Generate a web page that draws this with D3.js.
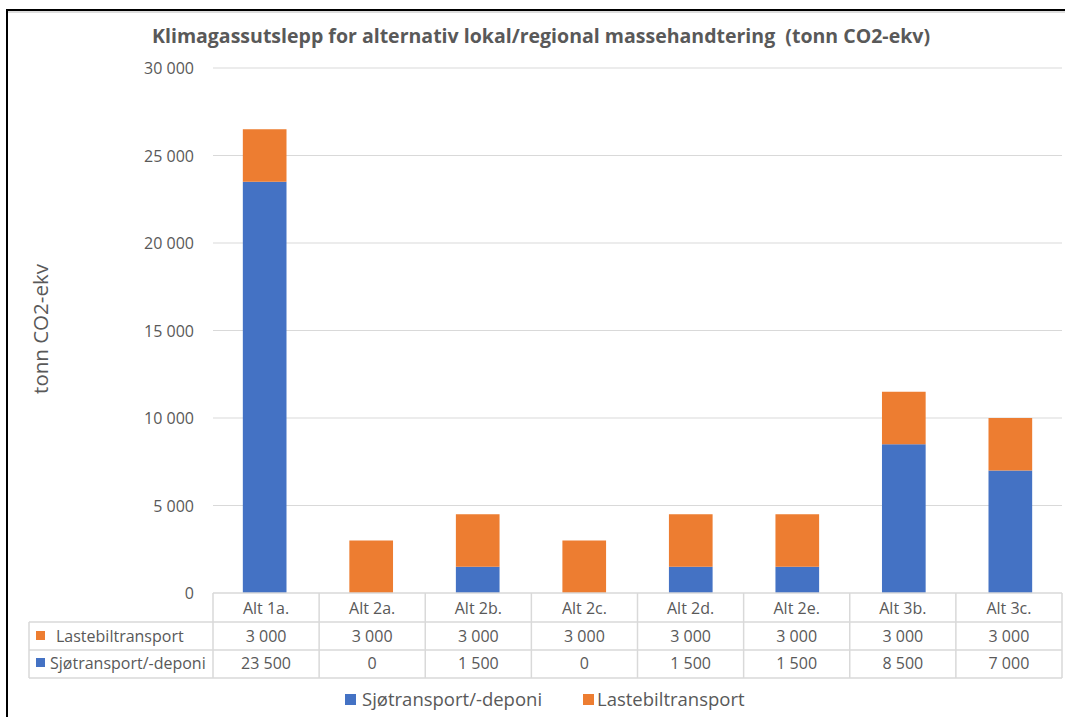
<!DOCTYPE html>
<html>
<head>
<meta charset="utf-8">
<script src="https://cdn.jsdelivr.net/npm/d3@7"></script>
<style>
  body { margin: 0; background: #fff; }
  svg { display: block; font-family: "Open Sans", "Noto Sans", sans-serif; }
</style>
</head>
<body>
<script>
var categories = ['Alt 1a.', 'Alt 2a.', 'Alt 2b.', 'Alt 2c.', 'Alt 2d.', 'Alt 2e.', 'Alt 3b.', 'Alt 3c.']
var sjotransport = [23500, 0, 1500, 0, 1500, 1500, 8500, 7000]
var lastebil = [3000, 3000, 3000, 3000, 3000, 3000, 3000, 3000]
var yTicks = [0, 5000, 10000, 15000, 20000, 25000, 30000]

var series = [
  { name: 'Sjøtransport/-deponi', values: sjotransport, color: '#4472C4' },
  { name: 'Lastebiltransport', values: lastebil, color: '#ED7D31' }
]

var W = 1065, H = 717
var plot = { left: 213, right: 1062, top: 68, bottom: 593 }
var grey = '#595959', lineCol = '#d9d9d9'
var fmt = function(v) { return d3.format(',')(v).replace(/,/g, ' ') }

var svg = d3.select('body').append('svg')
    .attr('width', W)
    .attr('height', H)

// frame
svg.append('line').attr('x1', 7).attr('x2', W).attr('y1', 12).attr('y2', 12)
    .attr('stroke', '#bbb').attr('stroke-width', 1)
svg.append('line').attr('x1', 6).attr('x2', W).attr('y1', 10).attr('y2', 10)
    .attr('stroke', '#000').attr('stroke-width', 2)
svg.append('line').attr('x1', 7).attr('x2', 7).attr('y1', 9).attr('y2', H)
    .attr('stroke', '#000').attr('stroke-width', 2)

svg.append('text')
    .attr('x', 541).attr('y', 43)
    .attr('text-anchor', 'middle')
    .attr('font-size', 19).attr('font-weight', 'bold')
    .attr('fill', grey)
    .style('white-space', 'pre')
    .attr('textLength', 778).attr('lengthAdjust', 'spacingAndGlyphs')
    .text('Klimagassutslepp for alternativ lokal/regional massehandtering  (tonn CO2-ekv)')

var x = d3.scaleBand()
    .domain(categories)
    .range([plot.left, plot.right])
    .paddingInner(0.59).paddingOuter(0.28)

var y = d3.scaleLinear()
    .domain([0, 30000])
    .range([plot.bottom, plot.top])

// gridlines
svg.append('g').selectAll('line')
  .data(yTicks.slice(1))
  .enter().append('line')
    .attr('x1', plot.left).attr('x2', plot.right)
    .attr('y1', function(d) { return y(d) }).attr('y2', function(d) { return y(d) })
    .attr('stroke', lineCol).attr('stroke-width', 1)

svg.append('g').selectAll('text')
  .data(yTicks)
  .enter().append('text')
    .attr('x', 194)
    .attr('y', function(d) { return y(d) + 6 })
    .attr('text-anchor', 'end')
    .attr('font-size', 16)
    .attr('fill', grey)
    .text(fmt)

svg.append('text')
    .attr('transform', 'translate(48,329) rotate(-90)')
    .attr('text-anchor', 'middle')
    .attr('font-size', 20.5)
    .attr('fill', grey)
    .text('tonn CO2-ekv')

// stacked bars
var rows = categories.map(function(c, i) {
  return { cat: c, s: sjotransport[i], l: lastebil[i] }
})
var stack = d3.stack().keys(['s', 'l'])(rows)

svg.append('g').selectAll('g')
  .data(stack)
  .enter().append('g')
    .attr('fill', function(d, i) { return series[i].color })
  .selectAll('rect')
  .data(function(d) { return d })
  .enter().append('rect')
    .attr('x', function(d) { return x(d.data.cat) })
    .attr('width', x.bandwidth())
    .attr('y', function(d) { return y(d[1]) })
    .attr('height', function(d) { return y(d[0]) - y(d[1]) })

// data table
var tableLeft = 29
var rowY = [593, 622, 650, 678]
var step = (plot.right - plot.left) / categories.length
var t = svg.append('g').attr('stroke', lineCol).attr('stroke-width', 1.5)

t.append('line').attr('x1', plot.left).attr('x2', plot.right).attr('y1', rowY[0]).attr('y2', rowY[0])
rowY.slice(1).forEach(function(yy) {
  t.append('line').attr('x1', tableLeft).attr('x2', plot.right).attr('y1', yy).attr('y2', yy)
})
t.append('line').attr('x1', tableLeft).attr('x2', tableLeft).attr('y1', rowY[1]).attr('y2', rowY[3])
d3.range(categories.length + 1).forEach(function(i) {
  var xx = plot.left + i * step
  t.append('line').attr('x1', xx).attr('x2', xx).attr('y1', rowY[0]).attr('y2', rowY[3])
})

var cellX = function(i) { return plot.left + (i + 0.5) * step }

svg.append('g').selectAll('text')
  .data(categories)
  .enter().append('text')
    .attr('x', function(d, i) { return cellX(i) })
    .attr('y', 614)
    .attr('text-anchor', 'middle')
    .attr('font-size', 16)
    .attr('fill', grey)
    .text(function(d) { return d })

var tableRows = [
  { s: series[1], y: 642, keyX: 36, textX: 56 },
  { s: series[0], y: 669, keyX: 36, textX: 50 }
]
tableRows.forEach(function(r) {
  svg.append('rect').attr('x', r.keyX).attr('y', r.y - 11).attr('width', 9).attr('height', 9)
      .attr('fill', r.s.color)
  svg.append('text').attr('x', r.textX).attr('y', r.y)
      .attr('font-size', 16).attr('fill', grey)
      .text(r.s.name)
  svg.append('g').selectAll('text')
    .data(r.s.values)
    .enter().append('text')
      .attr('x', function(d, i) { return cellX(i) })
      .attr('y', r.y)
      .attr('text-anchor', 'middle')
      .attr('font-size', 16)
      .attr('fill', grey)
      .text(fmt)
})

// legend
var legend = [
  { s: series[0], keyX: 345, textX: 362 },
  { s: series[1], keyX: 583, textX: 597 }
]
legend.forEach(function(l) {
  svg.append('rect').attr('x', l.keyX).attr('y', 694).attr('width', 11).attr('height', 11)
      .attr('fill', l.s.color)
  svg.append('text').attr('x', l.textX).attr('y', 706)
      .attr('font-size', 18.5).attr('fill', grey)
      .text(l.s.name)
})
</script>
</body>
</html>
